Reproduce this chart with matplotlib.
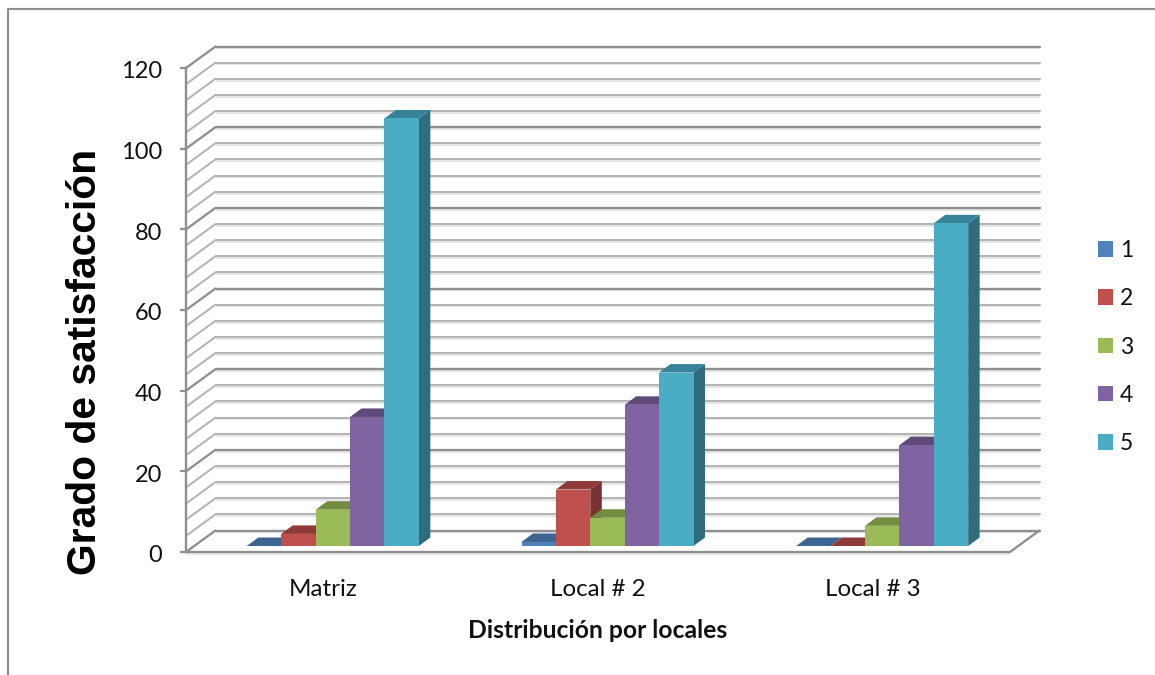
import matplotlib
matplotlib.use("Agg")
import matplotlib.pyplot as plt
from matplotlib.lines import Line2D
from matplotlib.patches import Patch, Polygon
from matplotlib.transforms import ScaledTranslation

categories = ["Matriz", "Local # 2", "Local # 3"]
series_names = ["1", "2", "3", "4", "5"]
values_1 = [0, 1, 0]
values_2 = [3, 14, 0]
values_3 = [9, 7, 5]
values_4 = [32, 35, 25]
values_5 = [106, 43, 80]
y_ticks = [0, 20, 40, 60, 80, 100, 120]

front_colors = ["#4F81BD", "#C0504D", "#9BBB59", "#8064A2", "#4BACC6"]
top_colors = ["#3E6591", "#8E3A38", "#748C42", "#5F4A79", "#37839A"]
side_colors = ["#345578", "#7A3230", "#62773A", "#514067", "#2F6D7D"]

W, H = 1155, 675
fig = plt.figure(figsize=(W / 100, H / 100), dpi=100, facecolor="white")

# The axes cover the front plane of the 3-D box, in pixels of the figure.
left, right, bottom, top = 186, 1010, 552, 68
ax = fig.add_axes([left / W, 1 - bottom / H, (right - left) / W, (bottom - top) / H])
ax.set_xlim(0, 3)
ax.set_ylim(0, 120)
ax.patch.set_visible(False)

px_x = 3 / (right - left)      # one pixel in category units
px_y = 120 / (bottom - top)    # one pixel in value units
wall_dx, wall_dy = 29.5 * px_x, 21.5 * px_y
bar_dx, bar_dy = 11.5 * px_x, 8.5 * px_y
base_dx, base_dy = 9.5 * px_x, 6 * px_y
bar_w = 34.4 * px_x


def line(xs, ys, color, width_px, z, shadow=None):
    if shadow:
        ax.plot(xs, [y - 1.8 * px_y for y in ys], color=shadow, lw=width_px * 0.72,
                clip_on=False, zorder=z - 0.1, solid_capstyle="butt")
    ax.plot(xs, ys, color=color, lw=width_px * 0.72, clip_on=False, zorder=z,
            solid_capstyle="round")


# Grid on the back wall and on the left side wall, one line every 4 units.
for v in range(0, 121, 4):
    major = v % 20 == 0
    color = "#8F8F8F" if major else "#B4B4B4"
    width = 2.3 if major else 2.0
    line([wall_dx, 3 + wall_dx], [v + wall_dy] * 2, color, width, 2, shadow="#E6E6E6")
    if v > 0:
        line([0, wall_dx], [v, v + wall_dy], color, width, 2)

# Floor of the box.
line([0, wall_dx], [0, wall_dy], "#8F8F8F", 2.3, 2.2)
line([3, 3 + wall_dx], [0, wall_dy], "#8F8F8F", 2.3, 2.2)
line([0, 3], [0, 0], "#8F8F8F", 2.3, 2.2, shadow="#E6E6E6")


def draw_bar(x0, value, i, z):
    x1 = x0 + bar_w
    y0 = base_dy
    y1 = base_dy + value
    ax.add_patch(Polygon([(x1, y0), (x1 + bar_dx, y0 + bar_dy), (x1 + bar_dx, y1 + bar_dy), (x1, y1)],
                         facecolor=side_colors[i], edgecolor="none", clip_on=False, zorder=z))
    ax.add_patch(Polygon([(x0, y1), (x0 + bar_dx, y1 + bar_dy), (x1 + bar_dx, y1 + bar_dy), (x1, y1)],
                         facecolor=top_colors[i], edgecolor="none", clip_on=False, zorder=z))
    ax.add_patch(Polygon([(x0, y0), (x1, y0), (x1, y1), (x0, y1)],
                         facecolor=front_colors[i], edgecolor="none", clip_on=False, zorder=z + 0.01))


all_series = [values_1, values_2, values_3, values_4, values_5]
for c in range(len(categories)):
    group_left = c + 0.5 + base_dx - 2.5 * bar_w
    for i, series in enumerate(all_series):
        draw_bar(group_left + i * bar_w, series[c], i, 3 + i * 0.1)

# Axes furniture.
for name in ("top", "right", "bottom"):
    ax.spines[name].set_visible(False)
ax.spines["left"].set_color("#8F8F8F")
ax.spines["left"].set_linewidth(1.7)
ax.spines["left"].set_zorder(5)
ax.set_yticks(y_ticks)
ax.set_xticks([0.5, 1.5, 2.5])
ax.set_xticklabels(categories)
ax.tick_params(axis="y", length=4.5, width=1.6, color="#8F8F8F", pad=12.5,
               labelsize=17, labelfontfamily="Lato", labelcolor="#111111")
ax.tick_params(axis="x", length=0, pad=19.5, labelsize=17.4,
               labelfontfamily="Lato", labelcolor="#111111")

# Nudge the value labels down so their digits sit centred on the ticks.
nudge = ScaledTranslation(0, -2 / 100, fig.dpi_scale_trans)
for label in ax.get_yticklabels():
    label.set_transform(label.get_transform() + nudge)

fig.text(598 / W, 1 - 631 / H, "Distribución por locales", family="Lato", weight="bold",
         fontsize=17.8, ha="center", va="center", color="#111111")
fig.text(85 / W, 1 - 362 / H, "Grado de satisfacción", family="Liberation Sans", weight="bold",
         fontsize=29.3, rotation=90, ha="center", va="center", color="black")

handles = [Patch(facecolor=c, edgecolor="none", label=n) for c, n in zip(front_colors, series_names)]
fig.legend(handles=handles, loc="center left", bbox_to_anchor=(1098 / W, 1 - 347 / H),
           frameon=False, borderpad=0, borderaxespad=0,
           prop={"family": "Lato", "size": 16.5}, labelcolor="#111111",
           handlelength=0.655, handleheight=0.655, handletextpad=0.3, labelspacing=1.19)

# Chart-area border, visible along the top and left only.
fig.add_artist(Line2D([7.5 / W, 7.5 / W, 1], [0, 1 - 9 / H, 1 - 9 / H],
                      color="#8E8E8E", lw=1.5, transform=fig.transFigure))

fig.savefig("out.png", dpi=100, facecolor="white")
